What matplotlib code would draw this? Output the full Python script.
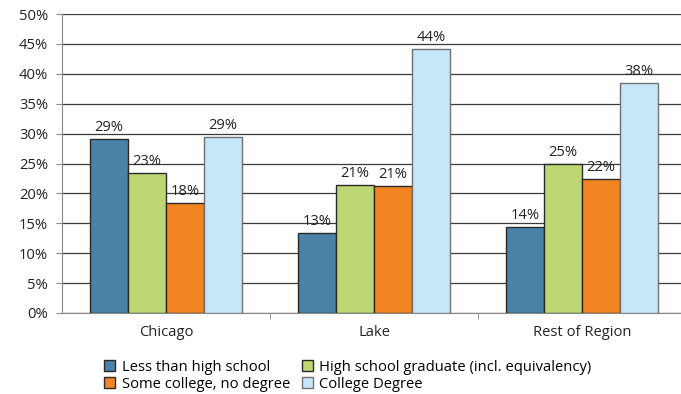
import numpy as np
import matplotlib.pyplot as plt
from matplotlib.patches import Patch

plt.rcParams['font.family'] = ['Open Sans', 'DejaVu Sans']

# data
regions = ['Chicago', 'Lake', 'Rest of Region']
series = ['Less than high school', 'High school graduate (incl. equivalency)',
          'Some college, no degree', 'College Degree']
less_hs = [29.1, 13.4, 14.4]
hs_grad = [23.4, 21.4, 24.9]
some_college = [18.4, 21.2, 22.4]
college = [29.4, 44.1, 38.4]
colors = ['#4a82a8', '#bcd774', '#f28424', '#c6e7f7']
edges = ['#2a2a2a', '#2a2a2a', '#2a2a2a', '#707070']

fig = plt.figure(figsize=(6.81, 3.94), dpi=100)
ax = fig.add_axes([62 / 681, 1 - 313 / 394, 624 / 681, 299 / 394])

x = np.arange(len(regions))
w = 0.183
for i, vals in enumerate([less_hs, hs_grad, some_college, college]):
    pos = x + (i - 1.5) * w
    ax.bar(pos, vals, w, color=colors[i], edgecolor=edges[i], linewidth=1, zorder=3)
    for p, v in zip(pos, vals):
        ax.text(p, v + 0.7, '%d%%' % round(v), ha='center', va='bottom',
                fontsize=10.6, color='#222222', zorder=4)

ax.set_xlim(-0.5, 2.5)
ax.set_ylim(0, 50)
ax.set_yticks(np.arange(0, 51, 5))
ax.set_yticklabels(['%d%%' % t for t in range(0, 51, 5)], fontsize=10.6, color='#222222')
ax.yaxis.grid(True, color='#3a3a3a', linewidth=0.9, zorder=0)
ax.set_axisbelow(True)
ax.set_xticks(x)
ax.set_xticklabels(regions, fontsize=10.6, color='#222222')
ax.set_xticks([0.5, 1.5], minor=True)
ax.tick_params(axis='x', which='major', length=0, pad=9)
ax.tick_params(axis='x', which='minor', length=4, color='#888888')
ax.tick_params(axis='y', length=4, color='#888888', pad=6)
for s in ['top', 'right']:
    ax.spines[s].set_visible(False)
ax.spines['left'].set_color('#888888')
ax.spines['bottom'].set_color('#888888')

handles = [Patch(facecolor=colors[i], edgecolor=edges[i], linewidth=1) for i in range(4)]
order = [0, 2, 1, 3]
fig.legend([handles[i] for i in order], [series[i] for i in order], ncol=2,
           loc='upper left', bbox_to_anchor=(104 / 681, 1 - 360 / 394), frameon=False,
           fontsize=10.6, handlelength=0.75, handleheight=0.75, handletextpad=0.45,
           columnspacing=0.8, labelspacing=0.12, borderaxespad=0, borderpad=0)

fig.savefig('out.png', dpi=100)
